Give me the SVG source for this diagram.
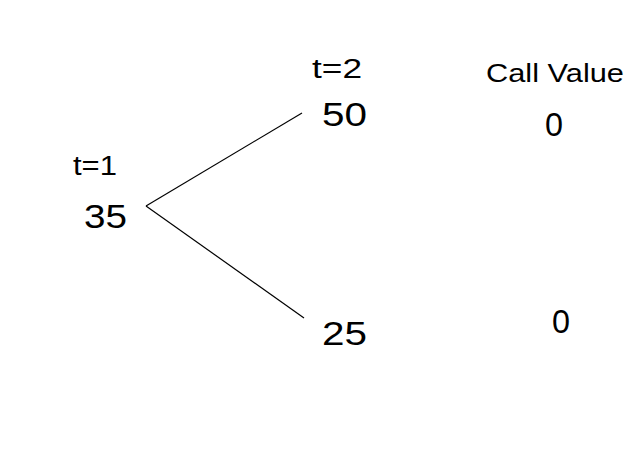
<svg xmlns="http://www.w3.org/2000/svg" width="638" height="458" viewBox="0 0 638 458">
<style>
text{font-family:"Liberation Sans Narrow","Liberation Sans","DejaVu Sans",sans-serif;fill:#000}
.n{font-size:33px}
.h{font-size:27px}
.c{font-size:25px}
.e{stroke:#000;stroke-width:1.2;fill:none}
</style>
<rect width="638" height="458" fill="#fff"/>
<g id="connectors">
<line class="e" x1="146" y1="206" x2="302" y2="113"/>
<line class="e" x1="146" y1="206" x2="304" y2="318"/>
</g>
<g id="t1"><text class="h" x="73" y="175" textLength="44" lengthAdjust="spacingAndGlyphs">t=1</text></g>
<g id="n35"><text class="n" x="84" y="228" textLength="43" lengthAdjust="spacingAndGlyphs">35</text></g>
<g id="t2"><text class="h" x="312" y="78" textLength="50" lengthAdjust="spacingAndGlyphs">t=2</text></g>
<g id="n50"><text class="n" x="322" y="126" textLength="45" lengthAdjust="spacingAndGlyphs">50</text></g>
<g id="n25"><text class="n" x="322" y="345" textLength="45" lengthAdjust="spacingAndGlyphs">25</text></g>
<g id="callvalue"><text class="c" x="486" y="82" textLength="138" lengthAdjust="spacingAndGlyphs">Call Value</text></g>
<g id="cv1"><text class="n" x="545" y="136" textLength="18" lengthAdjust="spacingAndGlyphs">0</text></g>
<g id="cv2"><text class="n" x="552" y="333" textLength="18" lengthAdjust="spacingAndGlyphs">0</text></g>
</svg>
